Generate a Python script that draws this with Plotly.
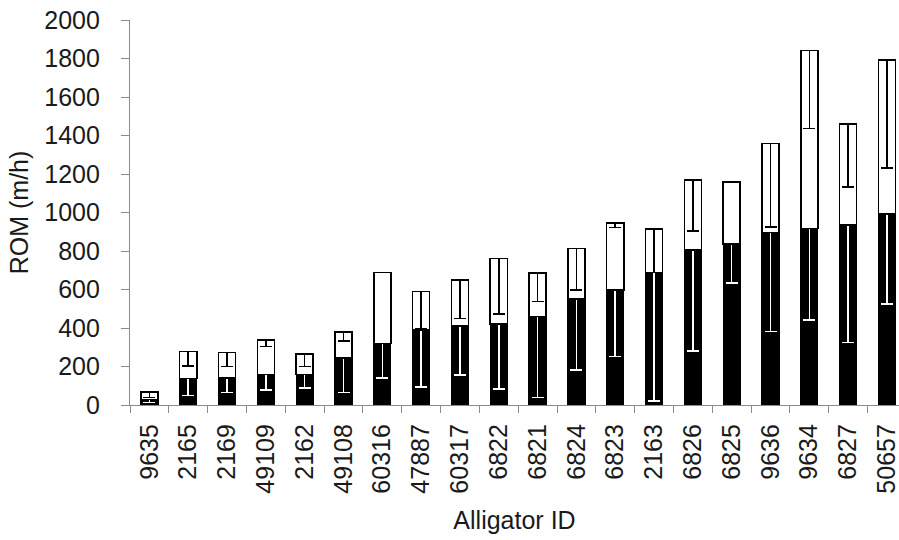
import plotly.graph_objects as go

# Alligator IDs, ordered by total rate of movement
alligator_ids = ["9635", "2165", "2169", "49109", "2162", "49108", "60316", "47887",
                 "60317", "6822", "6821", "6824", "6823", "2163", "6826", "6825",
                 "9636", "9634", "6827", "50657"]

# Lower (black) segment: mean ROM, m/h
rom_lower = [28, 137, 139, 159, 159, 243, 320, 390, 410, 421,
             459, 551, 597, 689, 805, 836, 897, 916, 935, 991]
# Lower segment error (drawn downward from the segment top)
rom_lower_err = [14, 87, 75, 81, 72, 179, 181, 295, 254, 338,
                 421, 369, 346, 667, 523, 201, 516, 474, 611, 466]

# Upper (white) segment stacked on top
rom_upper = [41, 140, 133, 179, 106, 135, 369, 199, 239, 341,
             228, 263, 347, 225, 364, 324, 462, 925, 525, 801]
# Upper segment error (drawn downward from the stack top)
rom_upper_err = [29, 75, 73, 35, 66, 46, 0, 194, 199, 289,
                 150, 217, 21, 225, 265, 0, 433, 404, 326, 562]

TEXT = "#1a1a1a"
AXIS = "#8a8a8a"
FONT = "Liberation Sans, Arial, sans-serif"
FS = 25

zeros = [0] * len(alligator_ids)

fig = go.Figure()
fig.add_trace(go.Bar(
    x=alligator_ids, y=rom_lower,
    marker=dict(color="black", line=dict(color="black", width=1.2)),
    error_y=dict(type="data", symmetric=False, array=zeros, arrayminus=rom_lower_err,
                 color="white", thickness=1.6, width=6),
    showlegend=False,
))
fig.add_trace(go.Bar(
    x=alligator_ids, y=rom_upper,
    marker=dict(color="white", line=dict(color="black", width=1.6)),
    error_y=dict(type="data", symmetric=False, array=zeros, arrayminus=rom_upper_err,
                 color="black", thickness=1.6, width=6),
    showlegend=False,
))

fig.update_layout(
    width=899, height=540,
    barmode="stack", bargap=0.56,
    margin=dict(l=130, r=0, t=20, b=135),
    paper_bgcolor="white", plot_bgcolor="white",
    font=dict(family=FONT, size=FS, color=TEXT),
)
fig.update_xaxes(
    type="category", range=[-0.5, 19.31],
    showline=True, linecolor=AXIS, linewidth=1.2,
    ticks="outside", tickson="boundaries", ticklen=7, tickcolor=AXIS, tickwidth=1.2,
    tickangle=-90, tickfont=dict(size=FS, color=TEXT), ticklabelstandoff=8,
    showgrid=False,
    title=dict(text="Alligator ID", font=dict(size=FS, color=TEXT), standoff=18),
)
fig.update_yaxes(
    range=[0, 2000], dtick=200,
    showline=True, linecolor=AXIS, linewidth=1.2,
    ticks="outside", ticklen=8, tickcolor=AXIS, tickwidth=1.2,
    tickfont=dict(size=FS, color=TEXT), ticklabelstandoff=16,
    showgrid=False, zeroline=False,
    title=dict(text="ROM (m/h)", font=dict(size=FS, color=TEXT), standoff=8),
)

fig.write_html("out.html")
